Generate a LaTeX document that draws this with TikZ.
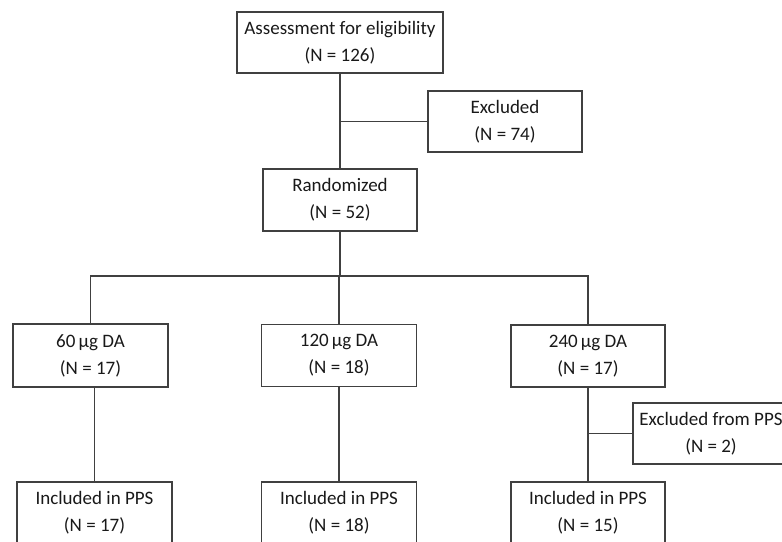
\documentclass[tikz,border=0pt]{standalone}
\usepackage{fontspec}
\setmainfont{Carlito}
\begin{document}
\begin{tikzpicture}[x=1pt,y=-1pt,
  box/.style={draw=black!75, line width=1.2pt, fill=white, align=center, inner sep=0pt,
    font=\fontsize{19}{27}\selectfont, text=black!90},
  link/.style={draw=black!75, line width=1.3pt}]
\useasboundingbox (0,0) rectangle (782,541);
\node[box, minimum width=206, minimum height=61] (top) at (340,42.5) {Assessment for eligibility\\(N = 126)};
\node[box, minimum width=154, minimum height=61] (excl) at (505,121.5) {Excluded\\(N = 74)};
\node[box, minimum width=154, minimum height=62] (rand) at (340,200) {Randomized\\(N = 52)};
\node[box, minimum width=155, minimum height=63] (d60) at (90.5,355.5) {60\,μg DA\\(N = 17)};
\node[box, minimum width=155, minimum height=62] (d120) at (339,355.5) {120\,μg DA\\(N = 18)};
\node[box, minimum width=154, minimum height=62] (d240) at (588,356) {240\,μg DA\\(N = 17)};
\node[box, minimum width=156, minimum height=61] (expps) at (711,433.5) {Excluded from PPS\\(N = 2)};
\node[box, minimum width=155, minimum height=62] (inc17) at (94.5,513) {Included in PPS\\(N = 17)};
\node[box, minimum width=155, minimum height=62] (inc18) at (339,513) {Included in PPS\\(N = 18)};
\node[box, minimum width=154, minimum height=62] (inc15) at (588,513) {Included in PPS\\(N = 15)};
\coordinate (split) at (340,276);
\draw[link] (top.south) -- (rand.north);
\draw[link] (excl.west) -- (excl.west -| top.south);
\draw[link] (rand.south) -- (rand.south |- split);
\draw[link] (d60.north) -- (d60.north |- split) -- (d240.north |- split) -- (d240.north);
\draw[link] (d120.north |- split) -- (d120.north);
\draw[link] (inc17.north) -- (inc17.north |- d60.south);
\draw[link] (d120.south) -- (inc18.north);
\draw[link] (d240.south) -- (inc15.north);
\draw[link] (expps.west) -- (expps.west -| d240.south);
\end{tikzpicture}
\end{document}
